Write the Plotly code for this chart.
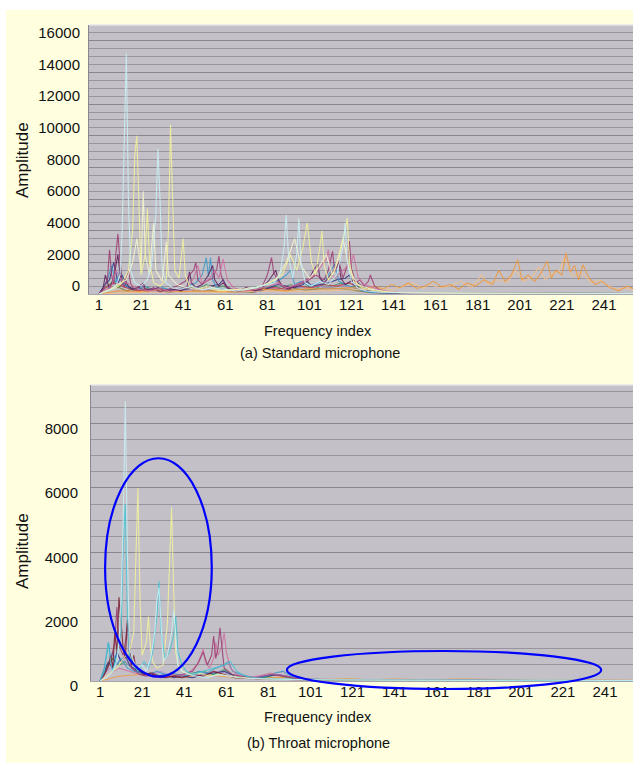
import plotly.graph_objects as go

# ---------------- data: standard microphone (top) ----------------
std_lightcyan_x = [1,4,7,9,11,12,13,14,15,16,18,21,24,26,28,29,30,31,33,36,40,45,50,55,60,66,72,78,84,87,89,90,91,93,95,96,97,99,102,106,110,114,117,118,119,121,124,128,135,150,170,190,210,230,256]
std_lightcyan_y = [0,150,300,500,1200,4000,10500,15200,6000,1500,700,500,900,1800,5000,9200,6000,1500,700,400,300,500,250,400,300,200,300,500,700,1200,3000,5000,2500,1000,2500,4800,2000,700,500,800,600,1200,3000,4500,2000,800,400,200,100,60,50,40,60,40,30]

std_lightyellow_x = [1,5,9,12,15,17,18,19,20,21,23,24,25,27,30,33,34,35,36,37,39,41,42,44,48,52,58,64,70,76,82,88,92,95,98,100,102,104,106,107,108,110,113,116,118,119,120,122,126,132,145,165,185,205,225,245,256]
std_lightyellow_y = [0,200,400,700,1500,4000,8800,10000,5000,1200,2500,5400,2000,700,500,900,4000,10700,6000,1500,1000,3500,1200,500,300,400,200,300,250,400,700,1200,2500,1500,3000,4500,2000,1200,3000,4000,1800,900,1500,3000,4000,4800,2000,800,400,200,80,60,50,40,50,30,20]

std_paleyellow_x = [1,6,10,14,17,19,21,22,23,25,26,27,28,31,32,33,34,38,43,47,53,60,68,75,80,85,90,94,97,101,105,109,112,115,117,120,124,130,140,160,180,200,220,240,256]
std_paleyellow_y = [0,300,600,900,2000,3500,1500,6500,2500,1200,3000,4500,1500,800,2000,3300,1200,600,400,300,500,200,300,400,600,900,2000,3500,1800,1000,1600,2500,1200,2200,3500,1500,600,300,100,60,40,50,40,30,20]

std_purple_x = [1,3,5,6,7,8,9,10,11,12,13,14,15,16,17,19,21,24,27,30,34,38,42,44,46,47,48,50,52,55,57,58,59,61,64,68,72,76,79,81,83,84,86,88,92,96,100,104,108,110,112,113,115,117,119,120,121,123,125,127,129,130,132,135,140,150,170,190,210,230,256]
std_purple_y = [0,300,900,2800,1200,600,2500,3800,2000,800,400,900,1500,700,400,300,600,200,400,150,300,500,800,1200,1500,2000,900,600,800,1000,1600,2400,1200,500,300,200,300,250,600,1200,2300,1400,800,500,400,600,800,1200,900,1500,2700,1400,2100,1000,1800,3350,1600,700,900,500,800,1200,500,200,100,60,50,40,40,40,30]

std_darkpurple_x = [1,3,4,5,6,8,10,11,12,13,15,17,19,21,22,23,26,29,33,37,40,43,44,45,47,50,53,55,56,58,60,63,67,71,75,78,80,82,85,86,88,91,94,98,101,103,105,106,108,111,114,115,116,118,122,126,129,133,138,150,175,200,225,256]
std_darkpurple_y = [0,400,1200,700,300,1000,2500,1200,600,1000,500,300,400,500,700,300,250,400,200,300,200,500,1400,700,400,600,1200,1800,900,500,700,300,200,400,200,300,600,900,1500,1000,500,300,500,800,1000,1500,1900,1000,700,1200,1700,2100,1000,600,900,500,300,150,80,50,40,30,40,20]

std_pink_x = [1,4,7,9,12,16,20,25,30,35,40,44,46,48,50,53,56,58,60,62,65,70,76,82,86,90,95,100,104,107,109,110,111,113,116,119,121,122,124,127,131,136,145,160,180,200,220,240,256]
std_pink_y = [0,200,500,1500,800,600,300,200,350,150,300,600,1000,1800,700,900,1500,1000,2200,900,400,200,300,500,700,400,600,900,1300,1800,2200,2800,1500,1000,1400,1800,2000,2500,1100,600,400,200,80,50,40,30,40,30,20]

std_teal_x = [1,3,5,7,9,11,13,16,19,23,27,31,35,39,43,47,50,52,53,54,55,57,60,64,69,74,79,83,87,90,92,94,97,101,105,109,111,113,115,118,122,126,130,140,160,185,210,235,256]
std_teal_y = [0,500,900,1800,700,1500,600,400,300,500,200,400,250,300,500,700,1200,2300,1100,2300,900,400,300,200,250,300,500,700,900,1200,1500,600,800,500,700,1000,1400,1900,800,600,400,200,100,50,40,30,50,30,20]

std_green_x = [1,3,6,8,10,13,16,20,24,28,32,36,40,44,48,52,56,60,64,68,72,76,80,84,88,92,96,100,104,108,112,116,120,124,128,132,140,150,170,190,210,230,256]
std_green_y = [0,300,600,900,400,700,300,200,400,250,350,200,300,500,300,600,400,500,250,200,300,250,400,500,350,600,400,500,350,600,500,700,400,500,300,200,80,60,50,40,60,40,20]

std_navy_x = [1,2,4,6,8,10,12,14,17,20,23,26,30,34,38,42,46,50,54,58,60,62,66,70,74,78,82,86,90,94,98,100,102,106,110,114,118,120,122,126,130,135,145,160,180,200,220,240,256]
std_navy_y = [0,200,600,900,2000,700,1200,500,300,400,200,300,150,250,200,300,400,350,500,600,900,400,250,200,300,200,400,600,500,400,600,800,500,600,700,900,1000,1200,600,300,150,80,50,40,30,40,30,40,20]

std_orange_x = [1,10,20,30,40,50,60,70,80,90,100,110,120,128,132,136,140,144,148,152,156,160,164,168,172,176,180,184,188,191,194,197,200,202,205,208,211,214,216,218,221,223,225,227,229,231,234,237,240,244,248,252,256]
std_orange_y = [0,200,150,250,150,200,150,250,300,200,350,300,400,350,500,300,600,400,700,350,500,800,450,600,300,700,500,900,600,1500,800,1200,2170,900,1200,800,1300,2080,1000,1500,1200,2600,1400,1800,900,1850,1000,600,800,400,200,500,300]

std_lightorange_x = [1,20,40,60,80,100,120,130,135,140,146,150,155,158,163,168,173,178,183,186,190,195,199,203,207,210,213,217,220,222,226,230,235,239,243,247,251,256]
std_lightorange_y = [0,100,150,100,200,150,250,300,400,250,500,700,350,600,400,500,800,400,1200,600,900,700,1500,800,1100,1700,900,1300,1500,2300,1100,1400,700,900,500,300,400,200]

std_red_x = [1,4,8,12,16,20,25,30,36,42,48,54,60,66,72,78,84,90,96,102,108,114,120,126,132,140,160,190,220,256]
std_red_y = [0,400,700,500,300,200,350,150,250,400,300,500,250,150,200,300,400,300,500,400,600,500,700,300,100,50,40,30,30,20]

std_lavender_x = [1,3,6,9,12,15,18,22,26,30,35,40,45,50,55,60,65,70,75,80,85,90,95,100,105,110,115,120,125,130,140,170,200,230,256]
std_lavender_y = [0,250,500,800,600,400,200,300,150,200,250,150,300,200,350,250,150,200,150,250,400,300,450,350,500,400,600,450,300,150,60,40,50,40,20]

std_olive_x = [1,5,9,14,19,24,29,34,39,44,49,54,59,64,69,74,79,84,89,94,99,104,109,114,119,124,129,135,150,180,210,240,256]
std_olive_y = [0,300,500,200,350,150,250,100,200,300,150,250,200,100,150,100,250,300,200,350,250,300,400,350,300,200,100,60,40,30,40,30,20]

# ---------------- data: throat microphone (bottom) ----------------
thr_lightcyan_x = [1,4,7,9,10,11,12,13,14,15,17,19,21,23,25,27,28,29,30,31,33,35,36,37,38,40,43,47,52,57,62,67,72,80,90,100,120,150,180,210,240,256]
thr_lightcyan_y = [0,100,300,600,1200,2500,5000,8700,4000,1000,600,400,500,300,700,1500,2500,2900,1800,600,800,1500,2200,1200,500,300,200,150,100,200,150,100,80,60,50,40,30,30,20,30,20,10]

thr_cyan_x = [1,3,5,6,7,9,11,12,13,14,15,17,19,22,24,26,28,29,30,32,34,36,37,38,40,42,45,50,55,60,63,66,70,75,85,100,130,160,190,220,256]
thr_cyan_y = [0,300,1200,600,300,800,1500,4200,5500,2000,800,500,300,600,400,900,2000,3100,1500,700,900,1400,2000,900,500,300,200,300,400,500,600,300,150,100,60,40,30,20,30,20,10]

thr_lightyellow_x = [1,5,9,12,15,17,18,19,20,21,23,24,25,26,28,31,33,34,35,36,37,38,40,44,48,53,58,63,70,80,95,110,140,170,200,230,256]
thr_lightyellow_y = [0,200,400,700,900,1500,3500,6000,2500,800,1200,2000,1000,600,400,500,1800,3500,5400,2800,900,500,300,200,250,150,200,150,100,60,40,30,20,20,30,20,10]

thr_maroon_x = [1,3,5,6,7,8,9,10,11,12,13,14,15,16,17,18,20,22,25,28,32,36,40,45,50,55,60,65,70,80,90,100,130,160,200,256]
thr_maroon_y = [0,200,500,800,400,1500,900,2600,1800,1000,700,1900,1200,500,800,400,300,200,250,150,100,150,100,200,150,300,200,100,80,60,40,30,20,20,20,10]

thr_purple_x = [1,4,6,8,9,10,12,13,14,15,16,18,20,23,26,30,35,40,45,48,50,52,54,55,56,57,58,59,60,62,64,68,75,82,88,95,105,130,170,210,256]
thr_purple_y = [0,300,600,1200,2300,1100,800,1200,1800,700,400,300,200,150,250,100,150,200,300,600,900,500,800,1400,700,1000,1650,900,400,300,200,150,100,200,150,60,40,20,20,20,10]

thr_pink_x = [1,5,10,15,20,25,30,35,40,44,47,49,50,51,53,55,56,57,59,60,61,63,66,70,76,82,86,90,96,105,130,170,210,256]
thr_pink_y = [0,200,400,300,200,150,100,200,150,300,500,800,1000,600,400,700,1200,800,1100,1500,900,400,200,100,150,250,200,150,60,40,20,20,20,10]

thr_teal_x = [1,3,5,6,7,9,11,14,17,20,24,28,32,36,40,44,48,52,56,60,62,64,68,74,80,84,88,92,98,110,140,180,220,256]
thr_teal_y = [0,400,1200,700,900,500,700,400,300,250,200,300,200,250,150,200,300,250,400,500,600,300,200,100,150,250,300,150,60,40,30,20,20,10]

thr_navy_x = [1,3,5,7,9,11,13,15,17,19,22,25,28,32,36,40,45,50,55,60,65,70,75,80,85,90,95,100,110,130,160,190,220,256]
thr_navy_y = [0,300,600,400,900,600,800,500,400,300,200,250,150,200,100,150,100,200,250,300,150,100,80,150,200,150,80,50,30,20,20,30,20,10]

thr_green_x = [1,4,7,10,13,16,19,22,26,30,35,40,45,50,55,60,65,70,75,80,85,90,95,100,110,120,140,160,180,200,220,240,256]
thr_green_y = [0,400,700,500,600,400,300,200,250,150,200,150,250,300,200,350,150,100,80,120,200,100,60,50,40,30,25,20,25,20,20,15,10]

thr_orange_x = [1,10,20,30,40,50,60,70,80,90,100,110,120,130,140,150,160,170,180,190,200,210,220,230,240,256]
thr_orange_y = [0,150,200,150,100,200,150,80,100,120,60,50,70,40,60,50,40,60,50,40,50,40,30,40,30,20]

thr_lavender_x = [1,4,8,12,16,20,25,30,35,40,46,52,58,64,70,78,86,94,102,115,130,150,170,190,210,230,256]
thr_lavender_y = [0,300,500,700,400,300,200,300,150,200,150,250,300,200,100,150,200,100,60,40,30,20,30,20,20,15,10]

x_tick_vals = [1, 21, 41, 61, 81, 101, 121, 141, 161, 181, 201, 221, 241]
y_ticks_top = [0, 2000, 4000, 6000, 8000, 10000, 12000, 14000, 16000]
y_ticks_bot = [0, 2000, 4000, 6000, 8000]

# ---------------- figure ----------------
W, H = 633, 763
FONT = "Arial, Liberation Sans, sans-serif"

top_series = [
    (std_green_x, std_green_y, "#3C9A5A"),
    (std_olive_x, std_olive_y, "#8A7A30"),
    (std_lavender_x, std_lavender_y, "#B090E0"),
    (std_red_x, std_red_y, "#C04040"),
    (std_navy_x, std_navy_y, "#2E2E80"),
    (std_teal_x, std_teal_y, "#3A9AC8"),
    (std_lightorange_x, std_lightorange_y, "#F2C08A"),
    (std_orange_x, std_orange_y, "#EE9A40"),
    (std_darkpurple_x, std_darkpurple_y, "#5A1F5A"),
    (std_purple_x, std_purple_y, "#9A3A70"),
    (std_pink_x, std_pink_y, "#D070A0"),
    (std_paleyellow_x, std_paleyellow_y, "#F6F6CC"),
    (std_lightyellow_x, std_lightyellow_y, "#F2F29A"),
    (std_lightcyan_x, std_lightcyan_y, "#C8F0F4"),
]
bot_series = [
    (thr_orange_x, thr_orange_y, "#EE9A40"),
    (thr_green_x, thr_green_y, "#3C9A5A"),
    (thr_lavender_x, thr_lavender_y, "#B090E0"),
    (thr_navy_x, thr_navy_y, "#2E2E80"),
    (thr_teal_x, thr_teal_y, "#3A9AC8"),
    (thr_pink_x, thr_pink_y, "#D070A0"),
    (thr_purple_x, thr_purple_y, "#9A3A70"),
    (thr_maroon_x, thr_maroon_y, "#7A1E2E"),
    (thr_lightyellow_x, thr_lightyellow_y, "#F2F29A"),
    (thr_cyan_x, thr_cyan_y, "#48C4D4"),
    (thr_lightcyan_x, thr_lightcyan_y, "#C8F0F4"),
]

fig = go.Figure()
for xs, ys, c in top_series:
    fig.add_trace(go.Scatter(x=xs, y=ys, mode="lines", line=dict(color=c, width=1.1),
                             opacity=0.85, xaxis="x", yaxis="y", showlegend=False, hoverinfo="skip"))
for xs, ys, c in bot_series:
    fig.add_trace(go.Scatter(x=xs, y=ys, mode="lines", line=dict(color=c, width=1.1),
                             opacity=0.85, xaxis="x2", yaxis="y2", showlegend=False, hoverinfo="skip"))

def px_x(p):
    return p / W

def px_y(p):
    return 1 - p / H

xdom1 = [px_x(89), 1.0]
ydom1 = [px_y(294), px_y(25)]
xdom2 = [px_x(91), 1.0]
ydom2 = [px_y(681), px_y(385)]
xr1 = [-3.75, 254.8]
yr1 = [0, 17000]
xr2 = [-3.3, 254.3]
yr2 = [0, 9200]

GRID = "#8A868F"
MINOR = "#98949D"
BG = "#C4C0C8"

def xaxis_cfg(dom, rng, anchor):
    return dict(domain=dom, range=rng, anchor=anchor, tickmode="array", tickvals=x_tick_vals,
                ticktext=[str(v) for v in x_tick_vals], fixedrange=True,
                showgrid=False, zeroline=False, showline=True, linecolor="#A8A4AE", linewidth=1,
                ticks="", ticklabelstandoff=-3,
                tickfont=dict(family=FONT, size=15, color="#111111"))

def yaxis_cfg(dom, rng, anchor, tv, shift, standoff):
    return dict(domain=dom, range=rng, anchor=anchor, tickmode="array", tickvals=tv,
                ticktext=[str(v) for v in tv], fixedrange=True,
                showgrid=True, gridcolor=GRID, gridwidth=1.4, zeroline=False,
                showline=True, linecolor="#8A8690", linewidth=1, ticks="",
                ticklabelshift=shift, ticklabelstandoff=standoff,
                minor=dict(dtick=500, tick0=0, showgrid=True, gridcolor=MINOR, gridwidth=1.2),
                tickfont=dict(family=FONT, size=15, color="#111111"))

fig.update_layout(
    width=W, height=H, autosize=False, margin=dict(l=0, r=0, t=0, b=0, autoexpand=False),
    paper_bgcolor="#FFFFE0", plot_bgcolor=BG,
    xaxis=xaxis_cfg(xdom1, xr1, "y"),
    yaxis=yaxis_cfg(ydom1, yr1, "x", y_ticks_top, -8, 5),
    xaxis2=xaxis_cfg(xdom2, xr2, "y2"),
    yaxis2=yaxis_cfg(ydom2, yr2, "x2", y_ticks_bot, 5, 9),
)

def d2p(xv, yv, xdom, xr, ydom, yr):
    px = xdom[0] + (xv - xr[0]) / (xr[1] - xr[0]) * (xdom[1] - xdom[0])
    py = ydom[0] + (yv - yr[0]) / (yr[1] - yr[0]) * (ydom[1] - ydom[0])
    return px, py

shapes = [
    dict(type="rect", xref="paper", yref="paper", x0=0, x1=1, y0=px_y(10), y1=1,
         fillcolor="white", line=dict(width=0), layer="above"),
    dict(type="rect", xref="paper", yref="paper", x0=0, x1=px_x(6), y0=0, y1=1,
         fillcolor="white", line=dict(width=0), layer="above"),
    dict(type="line", xref="paper", yref="paper", x0=xdom1[0], x1=1, y0=ydom1[1], y1=ydom1[1],
         line=dict(color="#E6E4E8", width=1.5)),
    dict(type="line", xref="paper", yref="paper", x0=xdom2[0], x1=1, y0=ydom2[1], y1=ydom2[1],
         line=dict(color="#E6E4E8", width=1.5)),
]

ell1 = (3.4, 54.1, 134, 6923)
ell2 = (89.8, 239.2, -249, 932)
for (ex0, ex1, ey0, ey1) in (ell1, ell2):
    a0, b0 = d2p(ex0, ey0, xdom2, xr2, ydom2, yr2)
    a1, b1 = d2p(ex1, ey1, xdom2, xr2, ydom2, yr2)
    shapes.append(dict(type="circle", xref="paper", yref="paper", x0=a0, x1=a1, y0=b0, y1=b1,
                       line=dict(color="#0000FF", width=2.2), layer="above"))

fig.update_layout(shapes=shapes)

annots = [
    ("Amplitude", 22, 160, 17, -90),
    ("Frequency index", 318, 331, 14.5, 0),
    ("(a) Standard microphone", 320, 353, 14.5, 0),
    ("Amplitude", 22, 551, 17, -90),
    ("Frequency index", 318, 717, 14.5, 0),
    ("(b) Throat microphone", 318, 743, 14.5, 0),
]
for text, ax, ay, sz, ang in annots:
    fig.add_annotation(text=text, xref="paper", yref="paper", x=px_x(ax), y=px_y(ay),
                       showarrow=False, textangle=ang, xanchor="center", yanchor="middle",
                       font=dict(family=FONT, size=sz, color="#111111"))

fig.write_html("out.html", config={"responsive": False, "displayModeBar": False})
